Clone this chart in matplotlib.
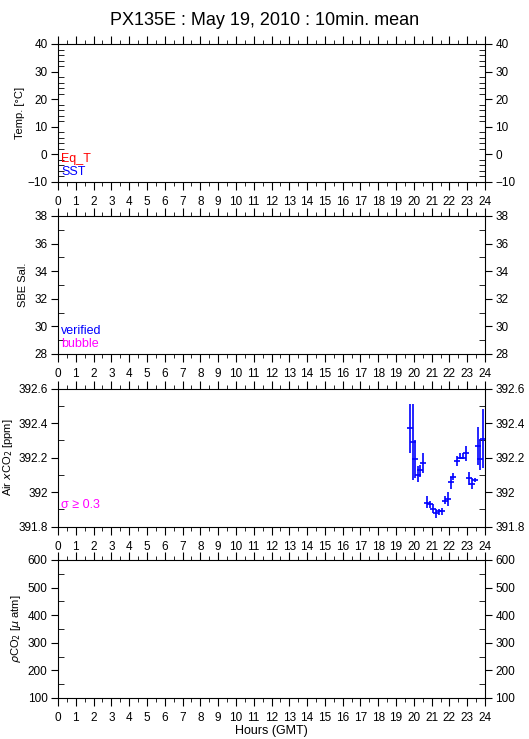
import matplotlib
matplotlib.use("Agg")
from matplotlib import pyplot as plt
from matplotlib.ticker import MultipleLocator

# air xCO2, 10 min means (hours GMT)
hours = [19.79, 19.93, 20.07, 20.22, 20.35, 20.53, 20.72, 20.90, 21.05, 21.22,
         21.40, 21.56, 21.75, 21.90, 22.07, 22.22, 22.41, 22.60, 22.75, 22.94,
         23.12, 23.26, 23.43, 23.58, 23.74, 23.91]
xco2 = [392.37, 392.29, 392.19, 392.10, 392.13, 392.17, 391.94, 391.93, 391.90, 391.88,
        391.89, 391.89, 391.95, 391.96, 392.06, 392.09, 392.18, 392.20, 392.20, 392.23,
        392.08, 392.05, 392.07, 392.27, 392.19, 392.31]
xco2_hi = [392.51, 392.51, 392.30, 392.15, 392.16, 392.23, 391.98, 391.95, 391.93, 391.90,
           391.90, 391.91, 391.98, 392.00, 392.09, 392.11, 392.21, 392.23, 392.23, 392.27,
           392.12, 392.08, 392.08, 392.38, 392.31, 392.48]
xco2_lo = [392.23, 392.07, 392.08, 392.06, 392.09, 392.11, 391.91, 391.91, 391.88, 391.85,
           391.87, 391.87, 391.93, 391.92, 392.02, 392.07, 392.15, 392.19, 392.19, 392.18,
           392.04, 392.02, 392.06, 392.16, 392.13, 392.14]

hour_ticks = list(range(0, 25))

plt.rcParams['font.family'] = ['Liberation Sans', 'DejaVu Sans']

fig = plt.figure(figsize=(5.29, 7.39), dpi=100)
fig.text(0.5, 0.984, "PX135E : May 19, 2010 : 10min. mean", ha="center", va="top", fontsize=13)

left = 58 / 529
width = (485 - 58) / 529
h = 138 / 739

panels = [
    # bottom, ylim, major, minor, label, label x (right edge of label)
    (1 - 182 / 739, (-10, 40), 10, 2, "Temp. [°C]", -0.077),
    (1 - 354 / 739, (28, 38), 2, 1, "SBE Sal.", -0.07),
    (1 - 526.7 / 739, (391.8, 392.6), 0.2, 0.1, r"Air $x$CO$_2$ [ppm]", -0.1),
    (1 - 698 / 739, (100, 600), 100, 50, r"$\rho$CO$_2$ [$\mu$ atm]", -0.082),
]

axes = []
for bottom, ylim, major, minor, label, lx in panels:
    ax = fig.add_axes([left, bottom, width, h])
    ax.set_xlim(0, 24)
    ax.set_ylim(*ylim)
    ax.set_xticks(hour_ticks)
    ax.xaxis.set_minor_locator(MultipleLocator(0.5))
    ax.yaxis.set_major_locator(MultipleLocator(major))
    ax.yaxis.set_minor_locator(MultipleLocator(minor))
    ax.tick_params(axis="x", which="both", direction="out", top=True, bottom=True,
                   labelsize=8.5, pad=4)
    ax.tick_params(axis="x", which="major", length=6)
    ax.tick_params(axis="x", which="minor", length=3)
    ax.tick_params(axis="y", which="major", direction="out", left=True, right=True,
                   labelleft=True, labelright=True, length=5, labelsize=8.5, pad=2.5)
    ax.tick_params(axis="y", which="minor", direction="in", left=True, right=True, length=4)
    ax.set_ylabel(label, fontsize=8)
    ax.yaxis.set_label_coords(lx, 0.5)
    axes.append(ax)

axes[2].yaxis.set_major_formatter(matplotlib.ticker.FuncFormatter(
    lambda v, p: ("%g" % round(v, 1))))

# legends
axes[0].text(0.008, 0.17, "Eq_T", color="red", fontsize=9, transform=axes[0].transAxes, va="center")
axes[0].text(0.008, 0.07, "SST", color="blue", fontsize=9, transform=axes[0].transAxes, va="center")
axes[1].text(0.008, 0.17, "verified", color="blue", fontsize=9, transform=axes[1].transAxes, va="center")
axes[1].text(0.008, 0.07, "bubble", color="magenta", fontsize=9, transform=axes[1].transAxes, va="center")
axes[2].text(0.008, 0.16, "σ ≥ 0.3", color="magenta", fontsize=9, transform=axes[2].transAxes, va="center")

# xCO2 points with error bars
lo = [c - l for c, l in zip(xco2, xco2_lo)]
hi = [u - c for c, u in zip(xco2, xco2_hi)]
axes[2].errorbar(hours, xco2, yerr=[lo, hi], fmt="_", color="blue", ecolor="blue",
                 elinewidth=1.2, markersize=5, markeredgewidth=1.2, capsize=0, clip_on=True)

axes[3].set_xlabel("Hours (GMT)", fontsize=9, labelpad=1)

plt.savefig("out.png", dpi=100)
